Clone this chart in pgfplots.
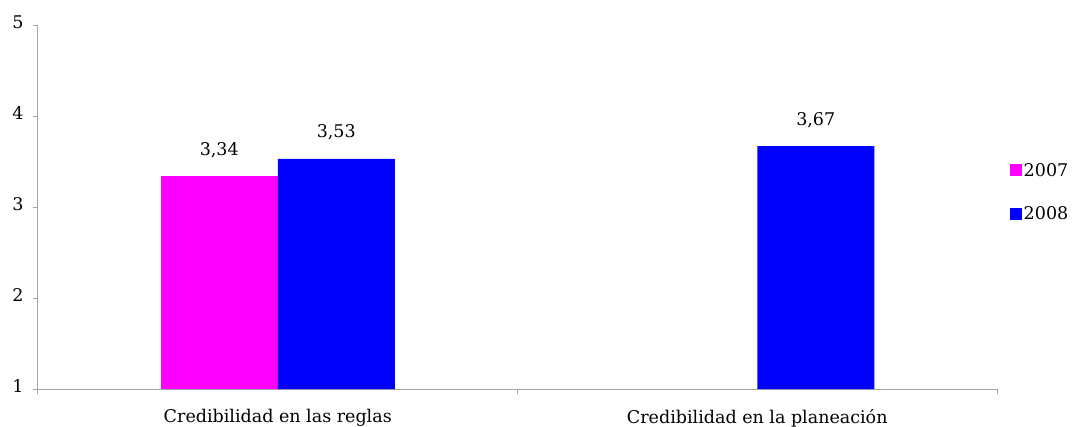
\documentclass[border=0pt]{standalone}
\usepackage{pgfplots}
\pgfplotsset{compat=1.18}
\usepackage{fontspec}
\setmainfont{DejaVu Serif}
\definecolor{c2007}{RGB}{255,0,255}
\definecolor{c2008}{RGB}{0,0,255}
\definecolor{axgray}{RGB}{165,165,165}
\begin{document}
\begin{tikzpicture}[font=\fontsize{17.5}{21}\selectfont]
\useasboundingbox (0,0) rectangle (1074pt,426pt);
\begin{axis}[
    scale only axis,
    width=959pt, height=364pt,
    at={(38pt,37pt)}, anchor=south west,
    xmin=-0.5, xmax=1.5,
    ymin=1, ymax=5,
    ytick={1,2,3,4,5},
    xtick={-0.5,0.5,1.5},
    x tick label as interval,
    xticklabels={Credibilidad en las reglas, Credibilidad en la planeación},
    xticklabel style={yshift=-12pt},
    axis x line*=bottom,
    axis y line*=left,
    axis line style={-, draw=axgray, line width=1pt},
    tick align=outside,
    major tick length=5pt,
    tick style={draw=axgray, line width=1pt},
    yticklabel style={/pgf/number format/assume math mode=true, xshift=-6pt, yshift=3pt},
    ybar, bar width=117pt,
    nodes near coords={\pgfmathprintnumber[fixed,fixed zerofill,precision=2,use comma,assume math mode=true]{\pgfplotspointmeta}},
    every node near coord/.append style={yshift=15pt},
    legend style={at={(1.0136,0.625)}, anchor=north west, draw=none, fill=none,
        inner sep=0pt, row sep=26pt, nodes={inner sep=1.5pt}},
    legend cell align=left,
]
\addplot[fill=c2007, draw=none, bar shift=-58.5pt,
    legend image code/.code={\fill[c2007] (0pt,-6pt) rectangle (12pt,6pt);}]
    coordinates {(0,3.34)};
\addlegendentry{2007}
\addplot[fill=c2008, draw=none, bar shift=58.5pt,
    legend image code/.code={\fill[c2008] (0pt,-6pt) rectangle (12pt,6pt);}]
    coordinates {(0,3.53) (1,3.67)};
\addlegendentry{2008}
\end{axis}
\end{tikzpicture}
\end{document}
